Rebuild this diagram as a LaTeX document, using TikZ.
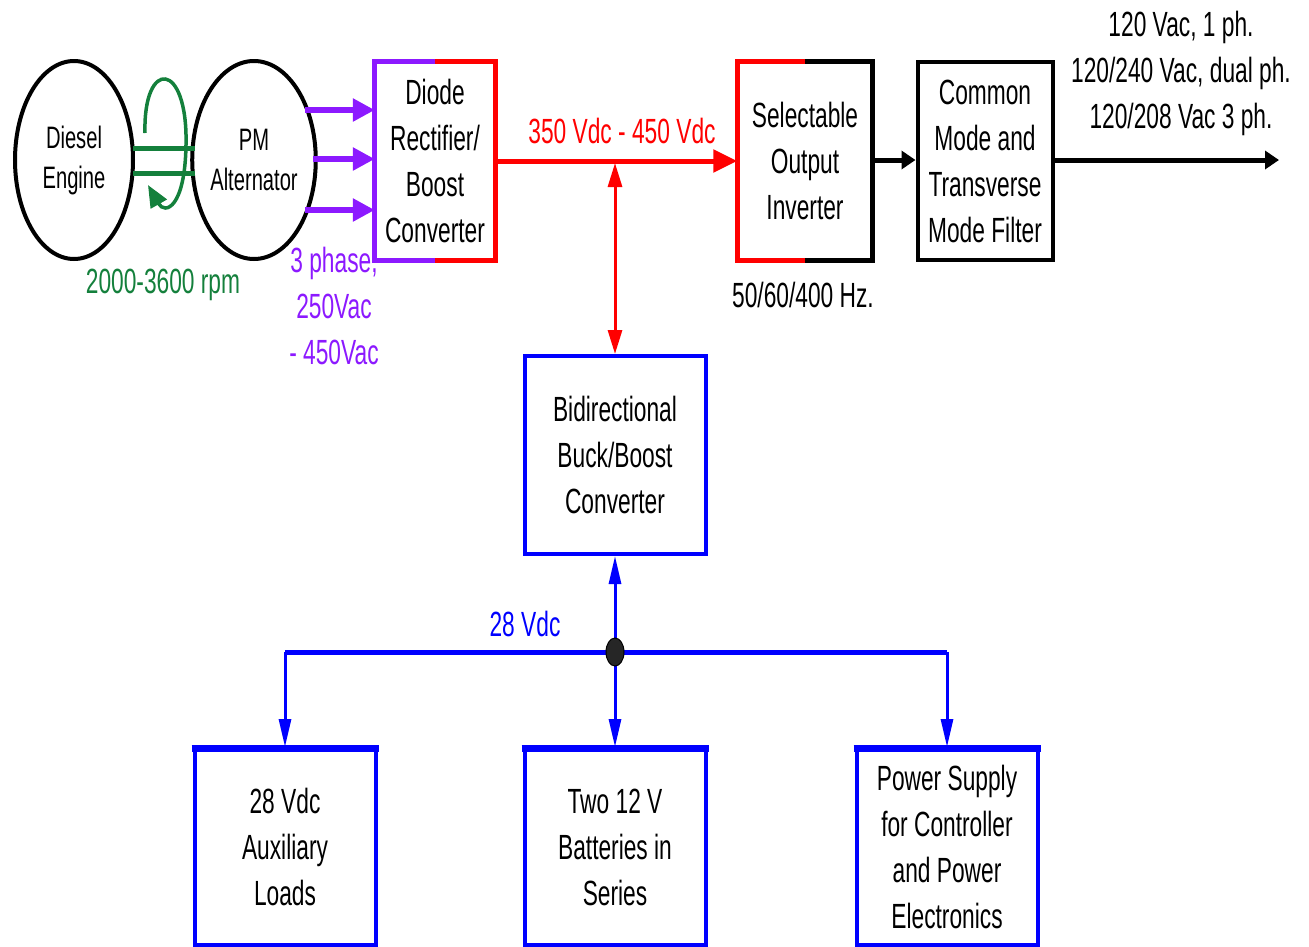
\documentclass[tikz,border=0pt]{standalone}
\usepackage{fontspec}
\setmainfont[FakeStretch=0.65]{Liberation Sans}
\usetikzlibrary{arrows.meta,shapes.geometric}
\definecolor{pur}{RGB}{140,25,255}
\definecolor{grn}{RGB}{20,128,60}
\definecolor{rd}{RGB}{255,0,0}
\definecolor{bl}{RGB}{0,0,255}
\tikzset{
  big/.style={font=\fontsize{35}{46}\selectfont},
  small/.style={font=\fontsize{31}{40}\selectfont},
  blk/.style={draw=black,line width=4pt,minimum width=#1,minimum height=198pt,inner sep=0pt,align=center,big},
  blk/.default=120pt,
  bbox/.style={draw=bl,line width=4pt,minimum width=181pt,inner sep=0pt,align=center,big},
  gear/.style={ellipse,draw=black,line width=4pt,minimum width=118pt,minimum height=198pt,inner sep=0pt,align=center,small},
  lbl/.style={inner sep=0pt,align=center,big},
  ptip/.style={-{Triangle[length=22pt,width=22pt]}},
}
\begin{document}
\begin{tikzpicture}[x=1pt,y=-1pt]
\useasboundingbox (0,0) rectangle (1309,946);
% engine and alternator
\node[gear] (eng) at (74,160) {Diesel\\Engine};
\node[gear] (alt) at (254,160) {PM\\Alternator};
% shaft
\draw[grn,line width=5pt] (133,148) -- (195,148);
\draw[grn,line width=5pt] (133,173) -- (195,173);
\draw[grn,line width=3.5pt,-{Triangle[length=22pt,width=18pt]}] (145,133) .. controls (143,58) and (188,60) .. (186,145) .. controls (185,208) and (165,215) .. (148,185);
\node[lbl,text=grn] (rpm) at (163,285) {2000-3600 rpm};
% rectifier
\node[minimum width=120pt,minimum height=198pt,inner sep=0pt,align=center,big] (rec) at (435,161) {Diode\\Rectifier/\\Boost\\Converter};
\draw[pur,line width=5pt,line join=miter] (rec.north) -- (rec.north west) -- (rec.south west) -- (rec.south);
\draw[rd,line width=5pt,line join=miter] (rec.north) -- (rec.north east) -- (rec.south east) -- (rec.south);
% purple arrows
\coordinate (p1) at (305,110);
\coordinate (p2) at (313,159);
\coordinate (p3) at (305,210);
\draw[pur,line width=6pt,ptip] (p1) -- (p1 -| rec.west);
\draw[pur,line width=6pt,ptip] (p2) -- (p2 -| rec.west);
\draw[pur,line width=6pt,ptip] (p3) -- (p3 -| rec.west);
\node[lbl,text=pur] (ph) at (334,306) {3 phase,\\250Vac\\- 450Vac};
% inverter
\node[minimum width=135pt,minimum height=198pt,inner sep=0pt,align=center,big] (inv) at (805,161) {Selectable\\Output\\Inverter};
\draw[rd,line width=5pt,line join=miter] (inv.north) -- (inv.north west) -- (inv.south west) -- (inv.south);
\draw[black,line width=5pt,line join=miter] (inv.north) -- (inv.north east) -- (inv.south east) -- (inv.south);
\node[lbl] (hz) at (803,295) {50/60/400 Hz.};
% filter
\node[blk=135pt] (fil) at (985,161) {Common\\Mode and\\Transverse\\Mode Filter};
% red bus
\draw[rd,line width=5pt,-{Triangle[length=24pt,width=22pt]}] (rec.east |- 0,161) -- (inv.west |- 0,161);
\node[lbl,text=rd] (hv) at (622,131) {350 Vdc - 450 Vdc};
% bidirectional converter
\node[bbox,minimum height=198pt] (bid) at (615,455) {Bidirectional\\Buck/Boost\\Converter};
\coordinate (bj) at (615,163);
\draw[rd,line width=3pt,{Triangle[length=24pt,width=14pt]}-{Triangle[length=24pt,width=14pt]}] (bj) -- (bid.north);
% black arrows
\draw[black,line width=5pt,-{Triangle[length=14pt,width=18pt]}] (inv.east |- 0,160) -- (fil.west |- 0,160);
\coordinate (out) at (1279,160);
\draw[black,line width=5pt,-{Triangle[length=14pt,width=18pt]}] (fil.east |- out) -- (out);
\node[lbl] (vac) at (1181,73) {120 Vac, 1 ph.\\120/240 Vac, dual ph.\\120/208 Vac 3 ph.};
% 28V bus
\coordinate (jn) at (615,652);
\node[bbox,minimum height=196pt] (aux) at (285,847) {28 Vdc\\Auxiliary\\Loads};
\node[bbox,minimum height=196pt] (bat) at (615,847) {Two 12 V\\Batteries in\\Series};
\node[bbox,minimum height=196pt] (psu) at (947,847) {Power Supply\\for Controller\\and Power\\Electronics};
\foreach \b in {aux,bat,psu}{
  \draw[bl,line width=7pt] ([xshift=-1pt,yshift=-1.5pt]\b.north west) -- ([xshift=1pt,yshift=-1.5pt]\b.north east);
}
\draw[bl,line width=5pt] (jn -| aux) -- (jn -| psu);
\draw[bl,line width=3pt,-{Triangle[length=28pt,width=12pt]}] (jn) -- (bid.south);
\draw[bl,line width=3pt,-{Triangle[length=28pt,width=12pt]}] (jn -| aux) -- (aux.north);
\draw[bl,line width=3pt,-{Triangle[length=28pt,width=12pt]}] (jn) -- (bat.north);
\draw[bl,line width=3pt,-{Triangle[length=28pt,width=12pt]}] (jn -| psu) -- (psu.north);
\fill[black!85,draw=black,line width=1pt] (jn) ellipse [x radius=9pt,y radius=14pt];
\node[lbl,text=bl] (v28) at (525,624) {28 Vdc};
\end{tikzpicture}
\end{document}
